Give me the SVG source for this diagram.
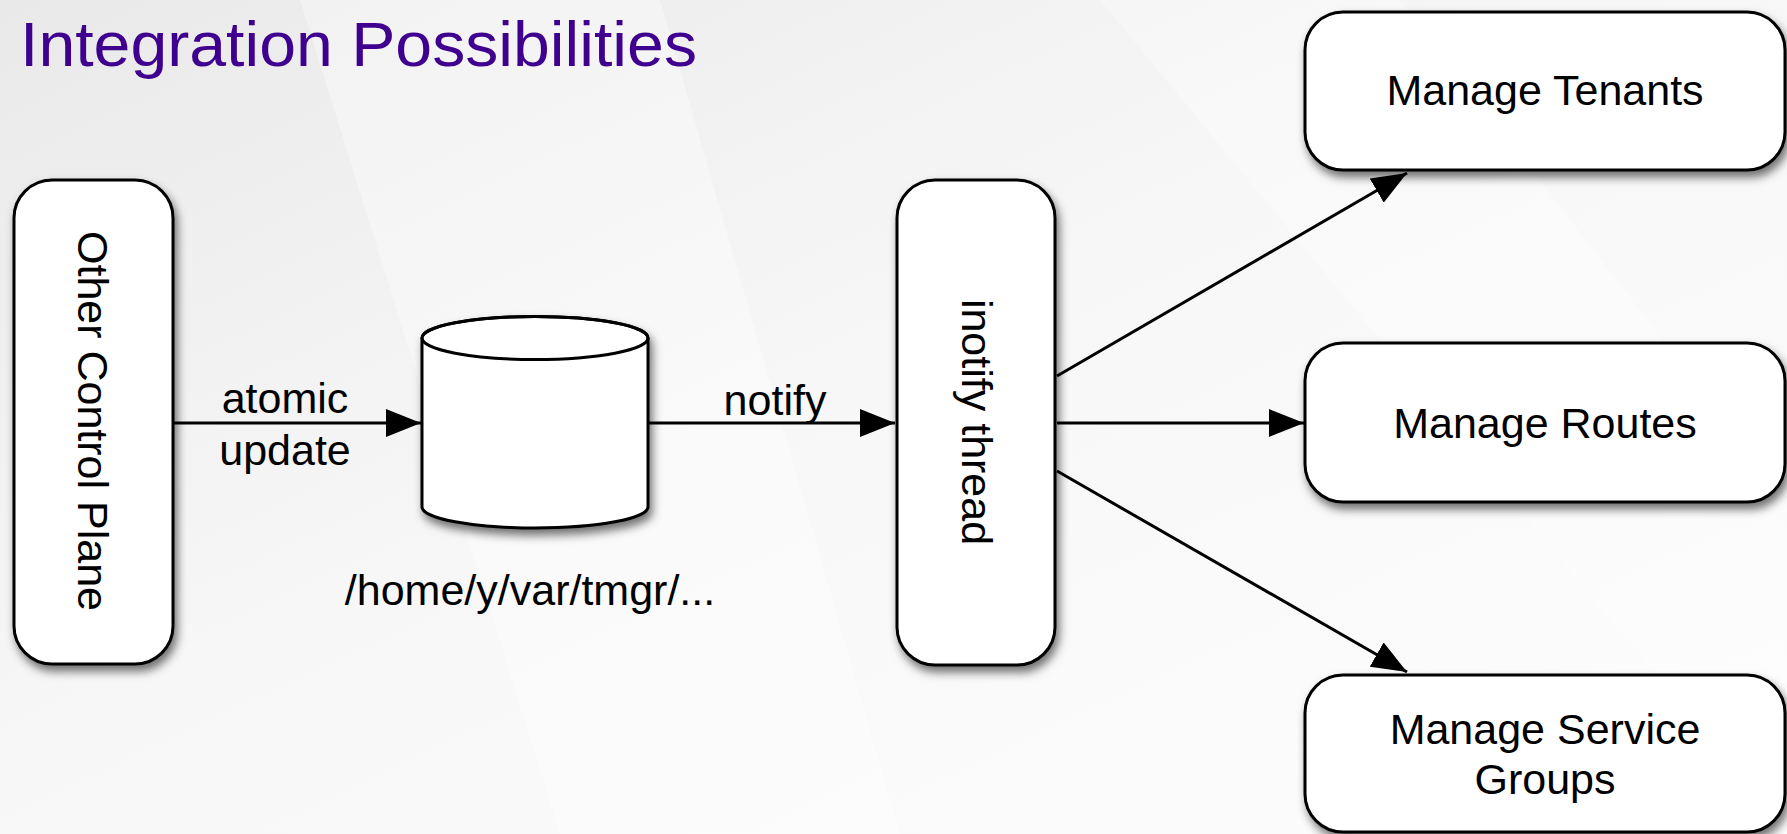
<svg xmlns="http://www.w3.org/2000/svg" width="1787" height="834" viewBox="0 0 1787 834">
<defs>
<linearGradient id="bg" x1="0" y1="0" x2="1" y2="1">
<stop offset="0" stop-color="#e9e9e9"/>
<stop offset="0.45" stop-color="#f7f7f7"/>
<stop offset="1" stop-color="#fdfdfd"/>
</linearGradient>
<filter id="sh" x="-20%" y="-20%" width="140%" height="140%">
<feDropShadow dx="3" dy="6" stdDeviation="5" flood-color="#000" flood-opacity="0.55"/>
</filter>
<marker id="ah" markerUnits="userSpaceOnUse" markerWidth="36" markerHeight="28" refX="35" refY="14" orient="auto">
<path d="M0,0 L35,14 L0,28 Z" fill="#000"/>
</marker>
<style>
.box{fill:#fff;stroke:#000;stroke-width:3;filter:url(#sh)}
.lbl{font-family:"Liberation Sans",Arial,sans-serif;font-size:43px;fill:#000}
.conn{stroke:#000;stroke-width:3;fill:none;marker-end:url(#ah)}
</style>
</defs>
<rect width="1787" height="834" fill="url(#bg)"/>
<polygon points="300,0 660,0 900,834 560,834" fill="#fff" opacity="0.35"/>
<polygon points="1100,0 1400,0 1787,500 1787,834" fill="#fff" opacity="0.3"/>
<text x="20" y="66" font-family="'Liberation Sans',Arial,sans-serif" font-size="63" fill="#40008f" textLength="677" lengthAdjust="spacingAndGlyphs">Integration Possibilities</text>

<g id="other-control-plane">
<rect class="box" x="14" y="180" width="159" height="484" rx="38"/>
<text class="lbl" transform="translate(78,421) rotate(90)" text-anchor="middle">Other Control Plane</text>
</g>

<g id="store">
<path class="box" d="M422,338 A113,21.5 0 0 1 648,338 L648,507 A113,21 0 0 1 422,507 Z"/>
<ellipse cx="535" cy="338" rx="113" ry="21.5" fill="none" stroke="#000" stroke-width="3"/>
<text class="lbl" x="530" y="605" text-anchor="middle">/home/y/var/tmgr/...</text>
</g>

<g id="inotify-thread">
<rect class="box" x="897" y="180" width="158" height="485" rx="38"/>
<text class="lbl" transform="translate(962,422) rotate(90)" text-anchor="middle">inotify thread</text>
</g>

<g id="manage-tenants">
<rect class="box" x="1305" y="12" width="480" height="158" rx="38"/>
<text class="lbl" x="1545" y="105" text-anchor="middle">Manage Tenants</text>
</g>

<g id="manage-routes">
<rect class="box" x="1305" y="343" width="480" height="159" rx="38"/>
<text class="lbl" x="1545" y="438" text-anchor="middle">Manage Routes</text>
</g>

<g id="manage-service-groups">
<rect class="box" x="1305" y="675" width="480" height="157" rx="38"/>
<text class="lbl" x="1545" y="744" text-anchor="middle">Manage Service</text>
<text class="lbl" x="1545" y="794" text-anchor="middle">Groups</text>
</g>

<g id="connectors">
<line class="conn" x1="173" y1="423" x2="421" y2="423"/>
<text class="lbl" x="285" y="413" text-anchor="middle">atomic</text>
<text class="lbl" x="285" y="465" text-anchor="middle">update</text>
<line class="conn" x1="648" y1="423" x2="895" y2="423"/>
<text class="lbl" x="775" y="415" text-anchor="middle">notify</text>
<line class="conn" x1="1057" y1="376" x2="1407" y2="173"/>
<line class="conn" x1="1057" y1="423" x2="1304" y2="423"/>
<line class="conn" x1="1057" y1="471" x2="1407" y2="672"/>
</g>
</svg>
